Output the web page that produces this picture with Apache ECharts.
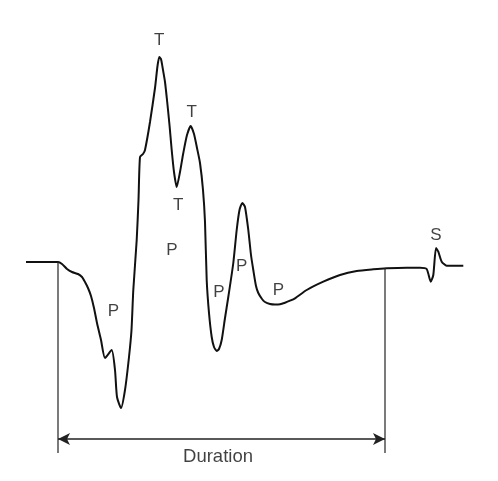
<!DOCTYPE html>
<html><head><meta charset="utf-8">
<script src="https://cdn.jsdelivr.net/npm/echarts@6/dist/echarts.min.js"></script>
<style>html,body{margin:0;padding:0;background:#fff}#c{width:498px;height:481px}</style>
</head><body><div id="c"></div>
<script>
// waveform: time (x) and amplitude (y, baseline = 0)
const waveT = [26,58,62,67,72,78,82,85,88,91,94,97,101,105,111.7,115,117,121,125,129,131.5,133.3,136.7,138.5,140,143,145,150,155,157.5,159.3,161,163,165,167,169.5,171.7,174,176.7,180,183.3,187,190.7,194,197,200,203,205,206.7,209,211.7,214,216.7,219,221.7,225,228.3,233.3,236.7,239.5,242.3,245,248.3,251,253.3,256,258.3,262,265,270,275,280,285,290,295,306.7,323.3,340,356.7,373.3,386.7,406.7,420,426.7,430.7,433.3,436,438.3,441.7,446.7,463.3];
const waveA = [0,0,-2,-7,-10,-12,-15,-20,-26,-34,-46,-61,-78,-96,-88,-108,-135,-146,-128,-95,-68,-28,22,62,105,108,112,140,174,196,205,203,192,180,162,137,112,90,75,90,109,127,136,128,114,99,72,40,-18,-51,-75,-85,-89,-87,-78,-56,-35,-1,32,52,59,55,32,7,-8,-24,-31,-37,-40,-42,-42.5,-42.3,-40.7,-38.7,-36.3,-28,-19.7,-13,-9,-7.3,-6.3,-5.7,-5.7,-7,-19.7,-13,14,10.3,0.3,-3.7,-3.7];
// duration markers
const durStart = 58, durEnd = 385;
const durLineA = -177;
const durBottomA = -191;
const durStartTopA = 0, durEndTopA = -6;
const durLabel = 'Duration';
const durLabelPos = [218, -195];
// wave labels
const labelText = ['T','T','T','P','P','P','P','P','S'];
const labelT = [159.3,191.7,178.3,172,113.3,219,241.7,278.3,436];
const labelA = [222,149.7,57,12,-49.7,-30.7,-4,-28.7,26.3];

const chart = echarts.init(document.getElementById('c'));
const font = {fontFamily:'Liberation Sans, Arial, sans-serif', fontSize:17, color:'#111'};
chart.setOption({
  animation:false,
  grid:{left:0,right:0,top:0,bottom:0},
  xAxis:{type:'value',min:0,max:498,show:false},
  yAxis:{type:'value',min:-219,max:262,show:false},
  series:[
    {type:'line',data:waveT.map((t,i)=>[t,waveA[i]]),showSymbol:false,smooth:0.2,
     lineStyle:{color:'#111',width:2},z:3},
    {type:'line',data:[[durStart,durStartTopA],[durStart,durBottomA]],showSymbol:false,lineStyle:{color:'#222',width:1.2}},
    {type:'line',data:[[durEnd,durEndTopA],[durEnd,durBottomA]],showSymbol:false,lineStyle:{color:'#222',width:1.2}},
    {type:'line',data:[],markLine:{silent:true,symbol:['arrow','arrow'],symbolSize:[9,12],
      label:{show:false},lineStyle:{color:'#222',width:1.5,type:'solid'},
      data:[[{coord:[durStart,durLineA]},{coord:[durEnd,durLineA]}]]}},
    {type:'scatter',symbolSize:0,data:labelText.map((s,i)=>({value:[labelT[i],labelA[i]],name:s})),
     label:{show:true,position:'inside',formatter:p=>p.name,...font}},
    {type:'scatter',symbolSize:0,data:[{value:durLabelPos,name:durLabel}],
     label:{show:true,position:'inside',formatter:p=>p.name,...font,fontSize:18.5}}
  ]
});
</script></body></html>
